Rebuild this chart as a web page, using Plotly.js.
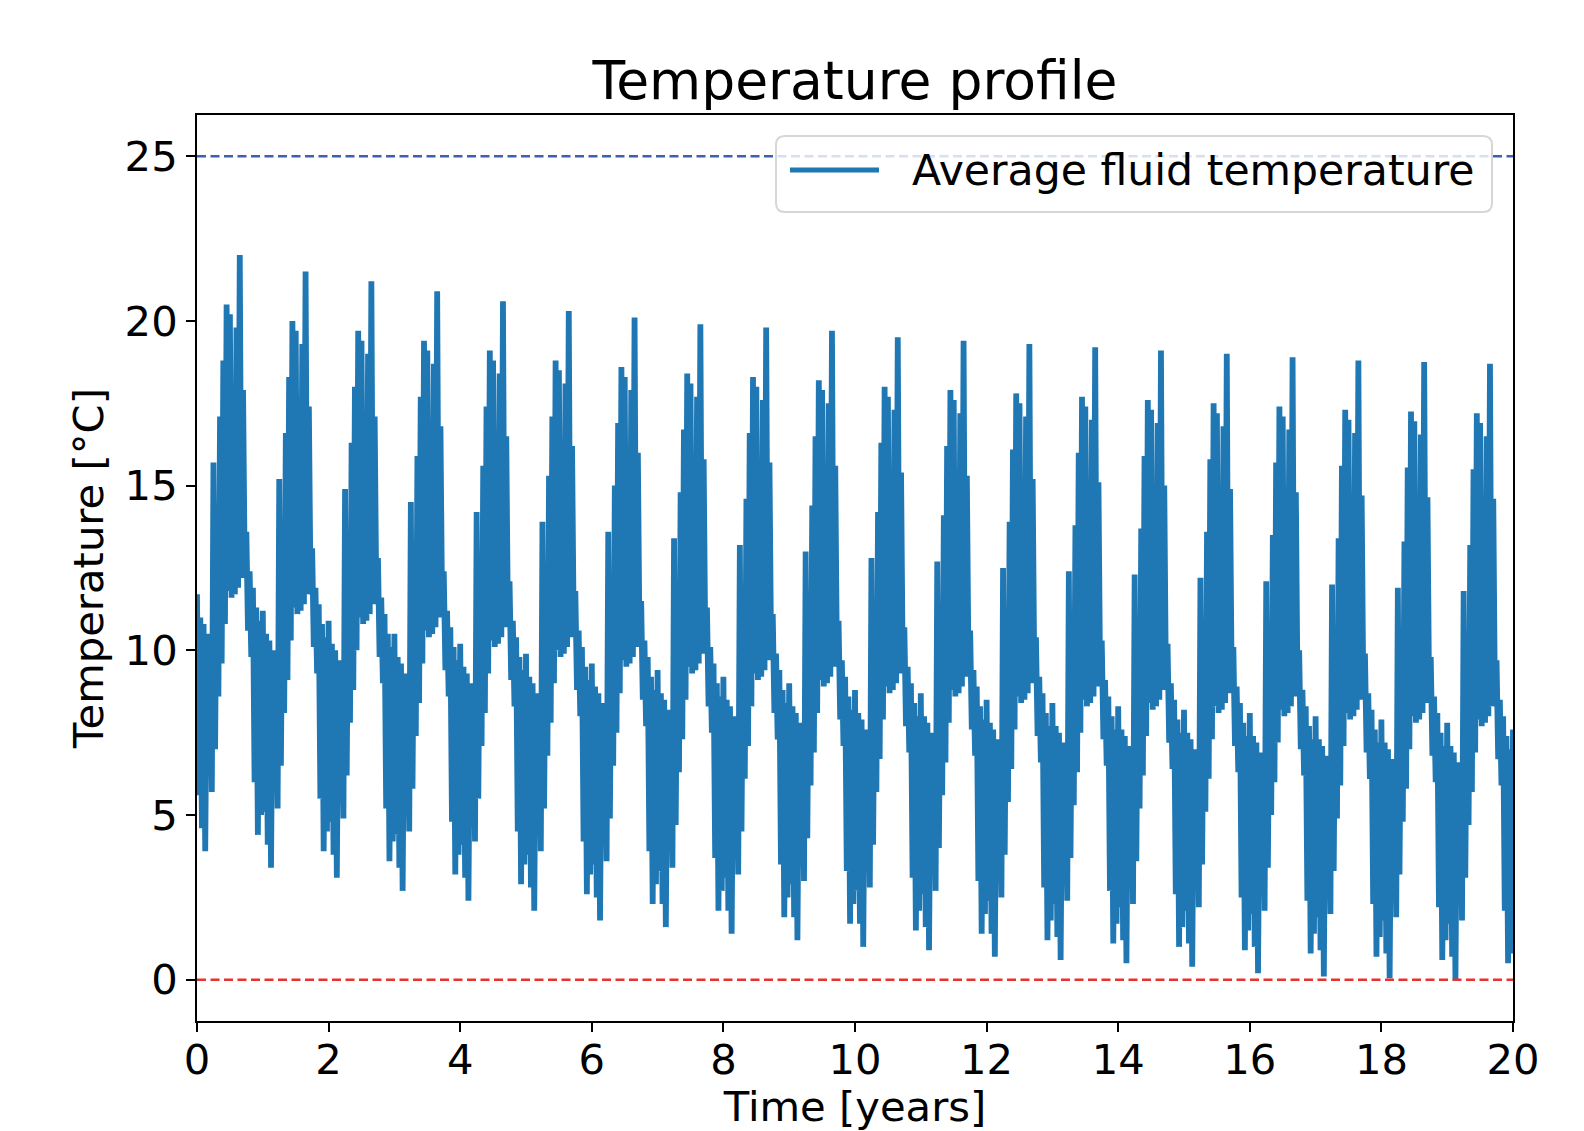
<!DOCTYPE html>
<html>
<head>
<meta charset="utf-8">
<script src="https://cdn.plot.ly/plotly-3.0.1.min.js"></script>
<style>html,body{margin:0;padding:0;background:#fff;}#chart{width:1584px;height:1131px;}</style>
</head>
<body>
<div id="chart"></div>
<script>
// ---- Data (average fluid temperature, °C), 40 samples per year ----
const samplesPerYear = 40;
const year00 = [11.7,5.6,11.0,4.6,10.8,3.9,10.5,6.2,10.2,5.7,15.7,7.0,13.6,8.6,17.1,9.6,18.8,10.8,20.5,11.8,20.2,11.6,17.6,11.7,19.8,11.9,22.0,12.2,17.9,12.4,13.6,10.6,12.4,9.8,11.9,6.0,11.3,4.4,10.9,5.0];
const year01 = [11.2,5.1,10.5,4.1,10.3,3.4,10.0,5.7,9.7,5.2,15.2,6.5,13.1,8.1,16.6,9.1,18.3,10.3,20.0,11.3,19.7,11.1,17.1,11.2,19.3,11.4,21.5,11.7,17.4,11.9,13.1,10.1,11.9,9.3,11.4,5.5,10.8,3.9,10.4,4.5];
const year02 = [10.9,4.8,10.2,3.8,10.0,3.1,9.7,5.4,9.4,4.9,14.9,6.2,12.8,7.8,16.3,8.8,18.0,10.0,19.7,11.0,19.4,10.8,16.8,10.9,19.0,11.1,21.2,11.4,17.1,11.6,12.8,9.8,11.6,9.0,11.1,5.2,10.5,3.6,10.1,4.2];
const year03 = [10.5,4.4,9.8,3.4,9.6,2.7,9.3,5.0,9.0,4.5,14.5,5.8,12.4,7.4,15.9,8.4,17.7,9.6,19.4,10.6,19.1,10.4,16.5,10.5,18.7,10.7,20.9,11.0,16.8,11.2,12.4,9.4,11.2,8.6,10.7,4.8,10.1,3.2,9.7,3.8];
const year04 = [10.2,4.1,9.5,3.1,9.3,2.4,9.0,4.7,8.7,4.2,14.2,5.5,12.1,7.1,15.6,8.1,17.4,9.3,19.1,10.3,18.8,10.1,16.2,10.2,18.4,10.4,20.6,10.7,16.5,10.9,12.1,9.1,10.9,8.3,10.4,4.5,9.8,2.9,9.4,3.5];
const year05 = [9.9,3.8,9.2,2.8,9.0,2.1,8.7,4.4,8.4,3.9,13.9,5.2,11.8,6.8,15.3,7.8,17.1,9.0,18.8,10.0,18.5,9.8,15.9,9.9,18.1,10.1,20.3,10.4,16.2,10.6,11.8,8.8,10.6,8.0,10.1,4.2,9.5,2.6,9.1,3.2];
const year06 = [9.6,3.5,8.9,2.5,8.7,1.8,8.4,4.1,8.1,3.6,13.6,4.9,11.5,6.5,15.0,7.5,16.9,8.7,18.6,9.7,18.3,9.5,15.7,9.6,17.9,9.8,20.1,10.1,16.0,10.3,11.5,8.5,10.3,7.7,9.8,3.9,9.2,2.3,8.8,2.9];
const year07 = [9.4,3.3,8.7,2.3,8.5,1.6,8.2,3.9,7.9,3.4,13.4,4.7,11.3,6.3,14.8,7.3,16.7,8.5,18.4,9.5,18.1,9.3,15.5,9.4,17.7,9.6,19.9,9.9,15.8,10.1,11.3,8.3,10.1,7.5,9.6,3.7,9.0,2.1,8.6,2.7];
const year08 = [9.2,3.1,8.5,2.1,8.3,1.4,8.0,3.7,7.7,3.2,13.2,4.5,11.1,6.1,14.6,7.1,16.6,8.3,18.3,9.3,18.0,9.1,15.4,9.2,17.6,9.4,19.8,9.7,15.7,9.9,11.1,8.1,9.9,7.3,9.4,3.5,8.8,1.9,8.4,2.5];
const year09 = [9.0,2.9,8.3,1.9,8.1,1.2,7.8,3.5,7.5,3.0,13.0,4.3,10.9,5.9,14.4,6.9,16.5,8.1,18.2,9.1,17.9,8.9,15.3,9.0,17.5,9.2,19.7,9.5,15.6,9.7,10.9,7.9,9.7,7.1,9.2,3.3,8.6,1.7,8.2,2.3];
const year10 = [8.8,2.7,8.1,1.7,7.9,1.0,7.6,3.3,7.3,2.8,12.8,4.1,10.7,5.7,14.2,6.7,16.3,7.9,18.0,8.9,17.7,8.7,15.1,8.8,17.3,9.0,19.5,9.3,15.4,9.5,10.7,7.7,9.5,6.9,9.0,3.1,8.4,1.5,8.0,2.1];
const year11 = [8.7,2.6,8.0,1.6,7.8,0.9,7.5,3.2,7.2,2.7,12.7,4.0,10.6,5.6,14.1,6.6,16.2,7.8,17.9,8.8,17.6,8.6,15.0,8.7,17.2,8.9,19.4,9.2,15.3,9.4,10.6,7.6,9.4,6.8,8.9,3.0,8.3,1.4,7.9,2.0];
const year12 = [8.5,2.4,7.8,1.4,7.6,0.7,7.3,3.0,7.0,2.5,12.5,3.8,10.4,5.4,13.9,6.4,16.1,7.6,17.8,8.6,17.5,8.4,14.9,8.5,17.1,8.7,19.3,9.0,15.2,9.2,10.4,7.4,9.2,6.6,8.7,2.8,8.1,1.2,7.7,1.8];
const year13 = [8.4,2.3,7.7,1.3,7.5,0.6,7.2,2.9,6.9,2.4,12.4,3.7,10.3,5.3,13.8,6.3,16.0,7.5,17.7,8.5,17.4,8.3,14.8,8.4,17.0,8.6,19.2,8.9,15.1,9.1,10.3,7.3,9.1,6.5,8.6,2.7,8.0,1.1,7.6,1.7];
const year14 = [8.3,2.2,7.6,1.2,7.4,0.5,7.1,2.8,6.8,2.3,12.3,3.6,10.2,5.2,13.7,6.2,15.9,7.4,17.6,8.4,17.3,8.2,14.7,8.3,16.9,8.5,19.1,8.8,15.0,9.0,10.2,7.2,9.0,6.4,8.5,2.6,7.9,1.0,7.5,1.6];
const year15 = [8.2,2.1,7.5,1.1,7.3,0.4,7.0,2.7,6.7,2.2,12.2,3.5,10.1,5.1,13.6,6.1,15.8,7.3,17.5,8.3,17.2,8.1,14.6,8.2,16.8,8.4,19.0,8.7,14.9,8.9,10.1,7.1,8.9,6.3,8.4,2.5,7.8,0.9,7.4,1.5];
const year16 = [8.1,2.0,7.4,1.0,7.2,0.2,6.9,2.6,6.6,2.1,12.1,3.4,10.0,5.0,13.5,6.0,15.7,7.2,17.4,8.2,17.1,8.0,14.5,8.1,16.7,8.3,18.9,8.6,14.8,8.8,10.0,7.0,8.8,6.2,8.3,2.4,7.7,0.8,7.3,1.4];
const year17 = [8.0,1.9,7.3,0.9,7.1,0.1,6.8,2.5,6.5,2.0,12.0,3.3,9.9,4.9,13.4,5.9,15.6,7.1,17.3,8.1,17.0,7.9,14.4,8.0,16.6,8.2,18.8,8.5,14.7,8.7,9.9,6.9,8.7,6.1,8.2,2.3,7.6,0.7,7.2,1.3];
const year18 = [7.9,1.8,7.2,0.8,7.0,0.05,6.7,2.4,6.4,1.9,11.9,3.2,9.8,4.8,13.3,5.8,15.55,7.0,17.25,8.0,16.95,7.8,14.35,7.9,16.55,8.1,18.75,8.4,14.65,8.6,9.8,6.8,8.6,6.0,8.1,2.2,7.5,0.6,7.1,1.2];
const year19 = [7.8,1.7,7.1,0.7,6.9,0.0,6.6,2.3,6.3,1.8,11.8,3.1,9.7,4.7,13.2,5.7,15.5,6.9,17.2,7.9,16.9,7.7,14.3,7.8,16.5,8.0,18.7,8.3,14.6,8.5,9.7,6.7,8.5,5.9,8.0,2.1,7.4,0.5,7.0,0.8];
const finalValue = 7.6;   // value at t = 20 years

const limitTemps = [0, 25];                 // dashed limit lines
const limitColors = ['#e8322d', '#3f5fb5'];
const xTicks = [0, 2, 4, 6, 8, 10, 12, 14, 16, 18, 20];
const yTicks = [0, 5, 10, 15, 20, 25];
const seriesName = 'Average fluid temperature';

// ---- Build the series ----
const years = [year00,year01,year02,year03,year04,year05,year06,year07,year08,year09,
               year10,year11,year12,year13,year14,year15,year16,year17,year18,year19];
const tx = [], ty = [];
years.forEach((arr, yi) => {
  arr.forEach((v, k) => { tx.push(yi + k / samplesPerYear); ty.push(v); });
});
tx.push(years.length); ty.push(finalValue);

const FONT = 'DejaVu Sans, Verdana, sans-serif';
const traces = [
  {
    type: 'scatter', mode: 'lines', x: tx, y: ty, name: seriesName,
    line: {color: '#1f77b4', width: 5.8, simplify: false}, showlegend: false, hoverinfo: 'skip'
  }
];
limitTemps.forEach((v, i) => {
  traces.push({
    type: 'scatter', mode: 'lines', x: [0, 20], y: [v, v], showlegend: false, hoverinfo: 'skip',
    line: {color: limitColors[i], width: 2.5, dash: '9px,4.5px'}
  });
});

// ---- Legend drawn like matplotlib's (rounded, semi-transparent) ----
const PL = 197, PR = 1513, PT = 115, PB = 1021;
const px = x => (x - PL) / (PR - PL);
const py = y => (PB - y) / (PB - PT);
const bx0 = px(776), bx1 = px(1492), by1 = py(136), by0 = py(212);
const rx = 9 / (PR - PL), ry = 9 / (PB - PT);
const boxPath = `M ${bx0+rx},${by1} L ${bx1-rx},${by1} Q ${bx1},${by1} ${bx1},${by1-ry} L ${bx1},${by0+ry} Q ${bx1},${by0} ${bx1-rx},${by0} L ${bx0+rx},${by0} Q ${bx0},${by0} ${bx0},${by0+ry} L ${bx0},${by1-ry} Q ${bx0},${by1} ${bx0+rx},${by1} Z`;

const layout = {
  width: 1584, height: 1131,
  margin: {l: PL, r: 1584 - PR, t: PT, b: 1131 - PB, pad: 0},
  paper_bgcolor: '#ffffff', plot_bgcolor: '#ffffff',
  font: {family: FONT, color: '#000000', size: 41.7},
  title: {
    text: 'Temperature profile', font: {family: FONT, size: 53.5, color: '#000000'},
    x: 855 / 1584, xref: 'container', xanchor: 'center',
    y: 1 - 80 / 1131, yref: 'container', yanchor: 'middle'
  },
  showlegend: false,
  xaxis: {
    range: [0, 20], tickvals: xTicks, ticktext: xTicks.map(String),
    ticks: 'outside', ticklen: 9, tickwidth: 2, tickcolor: '#000',
    ticklabelstandoff: -8,
    showline: true, linecolor: '#000', linewidth: 2, mirror: true,
    showgrid: false, zeroline: false,
    tickfont: {family: FONT, size: 41.7, color: '#000'},
    title: {text: 'Time [years]', font: {family: FONT, size: 41.7, color: '#000'}, standoff: 16}
  },
  yaxis: {
    range: [-1.25, 26.25], tickvals: yTicks, ticktext: yTicks.map(String),
    ticks: 'outside', ticklen: 9, tickwidth: 2, tickcolor: '#000',
    showline: true, linecolor: '#000', linewidth: 2, mirror: true,
    showgrid: false, zeroline: false,
    tickfont: {family: FONT, size: 41.7, color: '#000'},
    title: {text: 'Temperature [°C]', font: {family: FONT, size: 41.7, color: '#000'}, standoff: 8}
  },
  shapes: [
    {type: 'path', xref: 'paper', yref: 'paper', path: boxPath, layer: 'above',
     fillcolor: 'rgba(255,255,255,0.8)', line: {color: 'rgba(204,204,204,0.8)', width: 2}},
    {type: 'line', xref: 'paper', yref: 'paper', layer: 'above',
     x0: px(790), x1: px(879), y0: py(170), y1: py(170),
     line: {color: '#1f77b4', width: 5}}
  ],
  annotations: [
    {xref: 'paper', yref: 'paper', x: px(910), y: py(170), xanchor: 'left', yanchor: 'middle',
     text: seriesName, showarrow: false, font: {family: FONT, size: 42.6, color: '#000'}}
  ]
};

Plotly.newPlot('chart', traces, layout, {staticPlot: true, displayModeBar: false});
</script>
</body>
</html>
